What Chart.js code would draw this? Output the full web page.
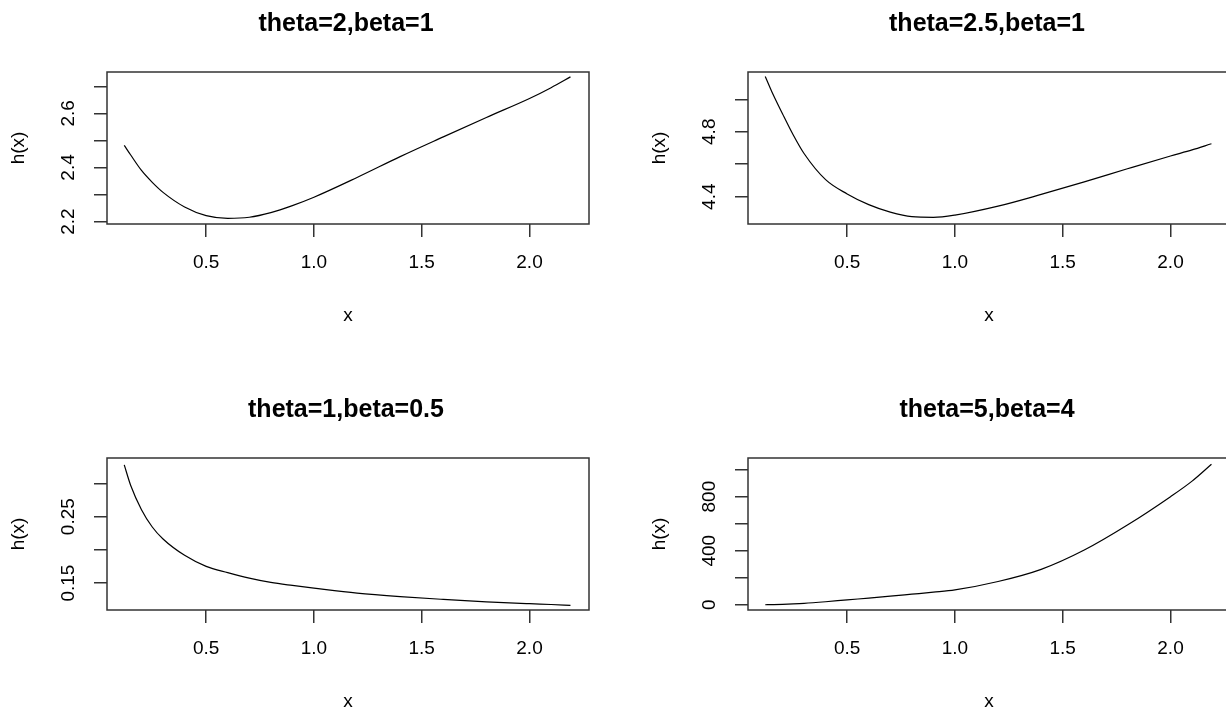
<!DOCTYPE html>
<html>
<head>
<meta charset="utf-8">
<script src="https://cdn.jsdelivr.net/npm/chart.js@4"></script>
<style>
  html, body { margin: 0; padding: 0; background: #fff; overflow: hidden; width: 1226px; height: 715px; }
  canvas { position: absolute; }
</style>
</head>
<body>
<canvas id="p1" width="613" height="340" style="left:0;top:0"></canvas>
<canvas id="p2" width="613" height="340" style="left:641px;top:0"></canvas>
<canvas id="p3" width="613" height="340" style="left:0;top:386px"></canvas>
<canvas id="p4" width="613" height="340" style="left:641px;top:386px"></canvas>
<script>
  // x grid the curves were read at
  const xValues = [0.12, 0.15, 0.2, 0.25, 0.3, 0.4, 0.5, 0.6, 0.7, 0.8, 0.9, 1.0, 1.2, 1.4, 1.6, 1.8, 2.0, 2.1, 2.19];

  // h(x)
  const h1 = [2.482, 2.446, 2.389, 2.345, 2.308, 2.254, 2.222, 2.212, 2.216, 2.233, 2.259, 2.290, 2.363, 2.440, 2.513, 2.585, 2.655, 2.695, 2.735];
  const h2 = [5.14, 5.048, 4.911, 4.78, 4.666, 4.505, 4.417, 4.351, 4.305, 4.277, 4.273, 4.287, 4.342, 4.414, 4.491, 4.572, 4.651, 4.688, 4.726];
  const h3 = [0.328, 0.297, 0.2606, 0.2345, 0.2164, 0.1918, 0.1752, 0.1658, 0.1575, 0.151, 0.1465, 0.1425, 0.135, 0.1297, 0.1255, 0.1218, 0.119, 0.1178, 0.1165];
  const h4 = [0, 1, 3, 6, 10, 22, 36, 49, 63, 78, 93, 110, 172, 262, 405, 590, 800, 915, 1040];

  const titles = ["theta=2,beta=1", "theta=2.5,beta=1", "theta=1,beta=0.5", "theta=5,beta=4"];

  const xTicks = [0.5, 1.0, 1.5, 2.0];
  const xRange = [0.04, 2.276];

  const yTicks1 = [2.2, 2.3, 2.4, 2.5, 2.6, 2.7];
  const yLabels1 = ["2.2", "2.4", "2.6"];
  const yTicks2 = [4.4, 4.6, 4.8, 5.0];
  const yLabels2 = ["4.4", "4.8"];
  const yTicks3 = [0.15, 0.20, 0.25, 0.30];
  const yLabels3 = ["0.15", "0.25"];
  const yTicks4 = [0, 200, 400, 600, 800, 1000];
  const yLabels4 = ["0", "400", "800"];

  const yRange1 = [2.191, 2.753];
  const yRange2 = [4.232, 5.168];
  const yRange3 = [0.1095, 0.3384];
  const yRange4 = [-39, 1086];

  const FAMILY = '"Liberation Sans", Arial, sans-serif';
  const INK = "#000";
  const FRAME = "#333";

  // box around the plot region, rotated y labels, bold title
  const rPlot = {
    id: "rPlot",
    afterDraw(chart, args, opts) {
      const { ctx, chartArea: a } = chart;
      const y = chart.scales.y;
      ctx.save();
      ctx.strokeStyle = FRAME;
      ctx.lineWidth = 1.5;
      ctx.strokeRect(a.left, a.top, a.right - a.left, a.bottom - a.top);

      ctx.fillStyle = INK;
      ctx.font = "19px " + FAMILY;
      ctx.textAlign = "center";
      ctx.textBaseline = "middle";
      opts.yLabels.forEach((lab) => {
        const py = y.getPixelForValue(parseFloat(lab));
        ctx.save();
        ctx.translate(a.left - 38, py);
        ctx.rotate(-Math.PI / 2);
        ctx.fillText(lab, 0, 0);
        ctx.restore();
      });

      ctx.font = "bold 25px " + FAMILY;
      ctx.textBaseline = "alphabetic";
      ctx.fillText(opts.title, (a.left + a.right) / 2 - 2, a.top - 41);
      ctx.restore();
    },
  };

  const makePanel = (id, title, hs, yRange, yTicks, yLabels) => {
    const points = xValues.map((x, i) => ({ x: x, y: hs[i] }));
    return new Chart(document.getElementById(id), {
      type: "line",
      data: {
        datasets: [{
          data: points,
          borderColor: INK,
          borderWidth: 1.2,
          pointRadius: 0,
          fill: false,
          cubicInterpolationMode: "monotone",
        }],
      },
      options: {
        responsive: false,
        animation: false,
        layout: { padding: { top: 72, right: 24, bottom: 0, left: 0 } },
        plugins: {
          legend: { display: false },
          tooltip: { enabled: false },
          rPlot: { title: title, yLabels: yLabels },
        },
        scales: {
          x: {
            type: "linear",
            min: xRange[0],
            max: xRange[1],
            afterBuildTicks: (s) => { s.ticks = xTicks.map((v) => ({ value: v })); },
            afterFit: (s) => { s.height = 116; },
            grid: { drawOnChartArea: false, drawTicks: true, tickLength: 13, color: FRAME, lineWidth: 1.5 },
            border: { display: false },
            ticks: {
              padding: 14,
              color: INK,
              font: { family: FAMILY, size: 19 },
              maxRotation: 0,
              autoSkip: false,
              callback: (v) => Number(v).toFixed(1),
            },
            title: { display: true, text: "x", color: INK, font: { family: FAMILY, size: 19 }, padding: { top: 0, bottom: 13 } },
          },
          y: {
            type: "linear",
            min: yRange[0],
            max: yRange[1],
            afterBuildTicks: (s) => { s.ticks = yTicks.map((v) => ({ value: v })); },
            afterFit: (s) => { s.width = 107; },
            grid: { drawOnChartArea: false, drawTicks: true, tickLength: 13, color: FRAME, lineWidth: 1.5 },
            border: { display: false },
            ticks: { display: false },
            title: { display: true, text: "h(x)", color: INK, font: { family: FAMILY, size: 19 }, padding: { top: 7, bottom: 0 } },
          },
        },
      },
      plugins: [rPlot],
    });
  };

  makePanel("p1", titles[0], h1, yRange1, yTicks1, yLabels1);
  makePanel("p2", titles[1], h2, yRange2, yTicks2, yLabels2);
  makePanel("p3", titles[2], h3, yRange3, yTicks3, yLabels3);
  makePanel("p4", titles[3], h4, yRange4, yTicks4, yLabels4);
</script>
</body>
</html>
